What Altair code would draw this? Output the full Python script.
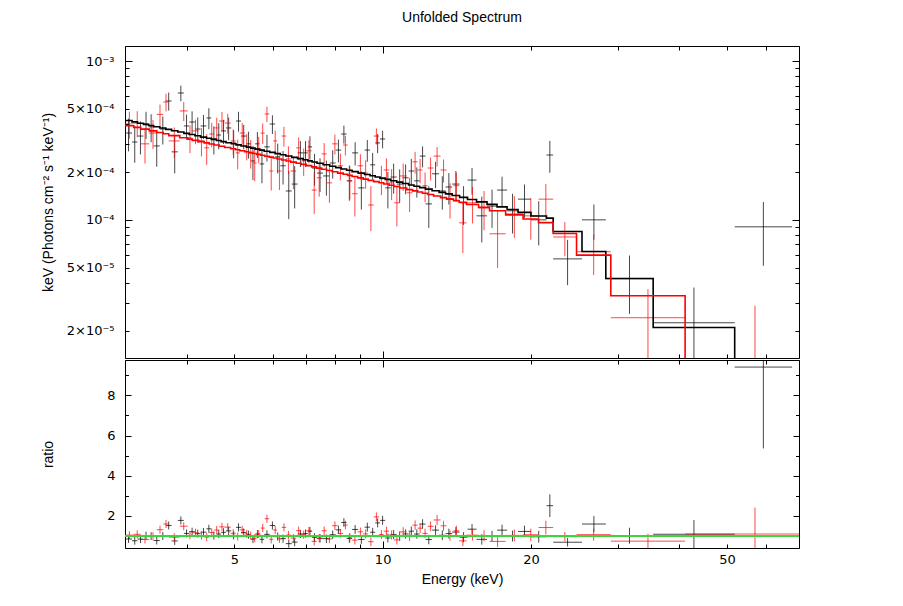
import altair as alt
import numpy as np
import pandas as pd

# ---------------- data ----------------
# dataset 1 (black): bin edges in keV, unfolded flux, 1-sigma error, model
B_EDGES = [3.0, 3.10, 3.18, 3.27, 3.35, 3.43, 3.53, 3.63, 3.73, 3.84, 3.95, 4.05, 4.16, 4.27,
           4.39, 4.49, 4.60, 4.70, 4.81, 4.93, 5.04, 5.16, 5.29, 5.40, 5.51, 5.63, 5.75, 5.90,
           6.05, 6.20, 6.36, 6.54, 6.72, 6.90, 7.05, 7.19, 7.36, 7.57, 7.81, 8.03, 8.24, 8.45,
           8.67, 8.92, 9.19, 9.43, 9.66, 9.88, 10.12, 10.38, 10.68, 10.98, 11.29, 11.58, 11.89,
           12.22, 12.60, 13.02, 13.42, 13.84, 14.33, 14.87, 15.51, 16.29, 17.07, 17.89, 18.83,
           20.0, 21.51, 22.19, 25.39, 28.38, 35.41, 51.83, 67.76]
B_FLUX = [3.52e-4, 3.09e-4, 3.37e-4, 4.01e-4, 3.85e-4, 2.92e-4, 3.73e-4, 5.60e-4, 2.68e-4, 6.29e-4,
          3.90e-4, 4.13e-4, 3.73e-4, 3.90e-4, 4.38e-4, 3.23e-4, 3.42e-4, 3.63e-4, 3.79e-4, 3.05e-4,
          4.19e-4, 3.37e-4, 3.01e-4, 2.35e-4, 3.01e-4, 2.25e-4, 2.88e-4, 4.01e-4, 2.49e-4, 2.19e-4,
          1.52e-4, 1.68e-4, 2.64e-4, 2.64e-4, 2.88e-4, 2.12e-4, 1.97e-4, 1.89e-4, 2.28e-4, 2.75e-4,
          3.47e-4, 1.76e-4, 2.64e-4, 1.59e-4, 2.75e-4, 2.22e-4, 3.05e-4, 3.23e-4, 1.59e-4, 1.86e-4,
          1.68e-4, 1.84e-4, 2.03e-4, 1.76e-4, 2.52e-4, 1.26e-4, 1.95e-4, 1.52e-4, 1.61e-4, 1.68e-4,
          1.28e-4, 1.78e-4, 1.06e-4, 1.22e-4, 1.54e-4, 1.14e-4, 1.35e-4, 1.00e-4, 2.56e-4, 5.68e-5,
          1.00e-4, 4.26e-5, 2.25e-5, 9.04e-5]
B_ERR = [8.2e-5, 8.0e-5, 7.9e-5, 7.8e-5, 7.7e-5, 7.6e-5, 7.5e-5, 7.3e-5, 7.2e-5, 7.1e-5,
         7.0e-5, 6.9e-5, 6.8e-5, 6.7e-5, 6.6e-5, 6.5e-5, 6.4e-5, 6.3e-5, 6.2e-5, 6.1e-5,
         6.0e-5, 5.9e-5, 5.8e-5, 5.7e-5, 5.6e-5, 5.5e-5, 5.5e-5, 5.4e-5, 5.3e-5, 5.2e-5, 5.1e-5, 5.0e-5, 4.9e-5,
         4.9e-5, 4.8e-5, 4.8e-5, 4.7e-5, 4.7e-5, 4.6e-5, 4.5e-5, 4.5e-5, 4.4e-5, 4.4e-5, 4.3e-5, 4.3e-5, 4.2e-5, 4.2e-5, 4.1e-5,
         4.1e-5, 4.0e-5, 4.0e-5, 3.9e-5, 3.9e-5, 3.8e-5, 3.8e-5, 3.7e-5, 3.7e-5, 3.6e-5, 3.6e-5, 3.5e-5,
         3.5e-5, 3.4e-5, 3.4e-5, 3.3e-5, 3.3e-5, 3.2e-5, 3.2e-5, 3.1e-5,
         5.8e-5, 1.8e-5, 2.5e-5, 1.7e-5, 1.5e-5, 3.9e-5]
B_MODEL = [4.218e-4, 4.140e-4, 4.061e-4, 3.990e-4, 3.926e-4, 3.857e-4, 3.783e-4, 3.711e-4, 3.640e-4, 3.570e-4,
           3.505e-4, 3.444e-4, 3.381e-4, 3.319e-4, 3.263e-4, 3.211e-4, 3.160e-4, 3.109e-4, 3.060e-4, 3.011e-4,
           2.963e-4, 2.915e-4, 2.871e-4, 2.830e-4, 2.789e-4, 2.749e-4, 2.705e-4, 2.658e-4, 2.613e-4, 2.570e-4,
           2.523e-4, 2.474e-4, 2.429e-4,
           2.388e-4, 2.351e-4, 2.313e-4, 2.270e-4, 2.222e-4, 2.175e-4, 2.132e-4, 2.092e-4, 2.053e-4, 2.013e-4,
           1.970e-4, 1.930e-4, 1.895e-4, 1.863e-4, 1.831e-4,
           1.799e-4, 1.763e-4, 1.727e-4, 1.692e-4, 1.659e-4, 1.627e-4, 1.595e-4, 1.561e-4, 1.525e-4, 1.490e-4,
           1.457e-4, 1.423e-4,
           1.386e-4, 1.344e-4, 1.298e-4, 1.251e-4, 1.207e-4, 1.163e-4, 1.114e-4, 1.058e-4,
           1.025e-4, 8.44e-5, 6.32e-5, 4.27e-5, 2.10e-5, 9.6e-6]

# dataset 2 (red)
R_EDGES = [3.0, 3.125, 3.229, 3.360, 3.480, 3.587, 3.681, 3.875, 4.022, 4.108, 4.234, 4.344, 4.447,
           4.552, 4.660, 4.781, 4.917, 5.033, 5.128, 5.249, 5.348, 5.449, 5.552, 5.657, 5.763, 5.886,
           5.997, 6.109, 6.239, 6.372, 6.507, 6.676, 6.834, 6.996, 7.178, 7.348, 7.521, 7.699, 7.899,
           8.104, 8.315, 8.492, 8.672, 8.898, 9.130, 9.346, 9.589, 9.838, 10.05, 10.31, 10.55, 10.83,
           11.19, 11.50, 11.78, 12.05, 12.34, 12.69, 13.11, 13.48, 13.93, 14.30, 14.80, 15.66, 16.48,
           17.77, 19.28, 20.72, 22.19, 24.75, 29.05, 41.11, 79.0]
R_FLUX = [4.02e-4, 4.07e-4, 3.01e-4, 3.52e-4, 4.61e-4, 5.52e-4, 3.14e-4, 4.85e-4, 3.28e-4, 3.63e-4,
          3.14e-4, 2.84e-4, 3.47e-4, 3.79e-4, 4.19e-4, 4.07e-4, 3.14e-4, 2.64e-4, 3.52e-4, 2.92e-4,
          2.64e-4, 2.28e-4, 2.80e-4, 3.52e-4, 4.64e-4, 2.03e-4, 3.14e-4, 2.03e-4, 3.37e-4, 2.42e-4,
          2.03e-4, 2.84e-4, 2.35e-4, 2.72e-4, 1.54e-4, 1.84e-4, 2.60e-4, 1.71e-4, 3.01e-4, 2.19e-4,
          2.96e-4, 1.76e-4, 1.46e-4, 2.19e-4, 1.97e-4, 1.24e-4, 3.37e-4, 1.81e-4, 2.06e-4, 1.71e-4,
          1.28e-4, 1.89e-4, 1.48e-4, 2.32e-4, 2.06e-4, 1.64e-4, 2.12e-4, 2.52e-4, 2.06e-4, 1.36e-4,
          1.64e-4, 9.57e-5, 1.28e-4, 1.19e-4, 8.17e-5, 1.09e-4, 1.06e-4, 1.35e-4, 7.8e-5, 6.3e-5,
          2.42e-5, 1.3e-5]
R_ERR = [7.8e-5, 7.6e-5, 7.5e-5, 7.3e-5, 7.1e-5, 7.0e-5, 6.8e-5, 6.6e-5, 6.5e-5, 6.4e-5,
         6.3e-5, 6.2e-5, 6.1e-5, 6.0e-5, 5.9e-5, 5.8e-5, 5.7e-5, 5.6e-5, 5.5e-5, 5.5e-5,
         5.4e-5, 5.3e-5, 5.3e-5, 5.2e-5, 5.1e-5, 5.0e-5, 5.0e-5, 4.9e-5, 4.8e-5, 4.8e-5, 4.7e-5, 4.6e-5,
         4.6e-5, 4.5e-5, 4.5e-5, 4.4e-5, 4.4e-5, 4.3e-5, 4.3e-5, 4.2e-5, 4.2e-5, 4.1e-5, 4.1e-5, 4.0e-5,
         4.0e-5, 3.9e-5, 3.9e-5, 3.8e-5,
         3.8e-5, 3.8e-5, 3.7e-5, 3.7e-5, 3.6e-5, 3.6e-5, 3.6e-5, 3.5e-5, 3.5e-5, 3.5e-5, 3.4e-5, 3.4e-5, 3.4e-5,
         3.4e-5, 3.3e-5, 3.3e-5, 3.2e-5, 3.2e-5, 3.1e-5,
         3.3e-5, 1.9e-5, 1.8e-5, 1.24e-5, 1.58e-5]
R_MODEL = [3.910e-4, 3.820e-4, 3.726e-4, 3.631e-4, 3.550e-4, 3.482e-4, 3.391e-4, 3.289e-4, 3.224e-4, 3.167e-4,
           3.107e-4, 3.054e-4, 3.006e-4, 2.958e-4, 2.908e-4, 2.855e-4, 2.805e-4, 2.764e-4, 2.725e-4, 2.686e-4,
           2.651e-4, 2.617e-4, 2.584e-4, 2.551e-4, 2.516e-4, 2.482e-4, 2.450e-4, 2.417e-4, 2.382e-4, 2.348e-4,
           2.310e-4, 2.272e-4,
           2.234e-4, 2.194e-4, 2.155e-4, 2.118e-4, 2.082e-4, 2.045e-4, 2.007e-4, 1.969e-4, 1.936e-4, 1.906e-4,
           1.874e-4, 1.839e-4, 1.806e-4, 1.773e-4, 1.740e-4, 1.711e-4,
           1.681e-4, 1.651e-4, 1.621e-4, 1.587e-4, 1.551e-4, 1.522e-4, 1.497e-4, 1.471e-4, 1.443e-4, 1.412e-4,
           1.380e-4, 1.350e-4, 1.321e-4,
           1.292e-4, 1.248e-4, 1.198e-4, 1.141e-4, 1.075e-4, 1.013e-4,
           9.60e-5, 8.20e-5, 6.00e-5, 3.33e-5, 1.2e-5]

# axes
X_DOMAIN = [3.0, 70.0]
Y_DOMAIN = [1.35e-5, 1.243e-3]
R_DOMAIN = [0.385, 9.77]
X_MAJOR = [10]
X_MINOR = [3, 4, 5, 6, 7, 8, 9, 20, 30, 40, 50, 60, 70]
X_LABEL_VALUES = [5, 10, 20, 50]
X_LABEL_TEXT = ["5", "10", "20", "50"]
Y_MAJOR = [1e-3, 1e-4]
Y_MINOR = [9e-4, 8e-4, 7e-4, 6e-4, 5e-4, 4e-4, 3e-4, 2e-4,
           9e-5, 8e-5, 7e-5, 6e-5, 5e-5, 4e-5, 3e-5, 2e-5]
Y_LABEL_VALUES = [1e-3, 5e-4, 2e-4, 1e-4, 5e-5, 2e-5]
Y_LABEL_TEXT = ["10⁻³", "5×10⁻⁴", "2×10⁻⁴", "10⁻⁴", "5×10⁻⁵", "2×10⁻⁵"]
R_MAJOR = [2, 4, 6, 8]
R_MINOR = [1, 3, 5, 7, 9]

FONT = "Liberation Sans"
LFONT = "DejaVu Sans"
W, H_TOP, H_BOT = 674, 312, 188


def label_expr(values, texts):
    parts = [f"abs(datum.value / {v!r} - 1) < 0.001 ? '{t}'" for v, t in zip(values, texts)]
    return " : ".join(parts) + " : ''"


def build(edges, flux, err, model):
    lo = np.array(edges[:-1], dtype=float)
    hi = np.array(edges[1:], dtype=float)
    df = pd.DataFrame({"lo": lo, "hi": hi, "c": np.sqrt(lo * hi),
                       "flux": flux, "err": err, "model": model})
    df["f_lo"] = np.maximum(df["flux"] - df["err"], 1e-7)
    df["f_hi"] = df["flux"] + df["err"]
    df["ratio"] = df["flux"] / df["model"]
    df["r_err"] = df["err"] / df["model"]
    df["r_lo"] = df["ratio"] - df["r_err"]
    df["r_hi"] = df["ratio"] + df["r_err"]
    return df


def steps(df):
    rows = []
    for i, r in df.reset_index(drop=True).iterrows():
        rows.append({"i": 2 * i, "e": r["lo"], "m": r["model"]})
        rows.append({"i": 2 * i + 1, "e": r["hi"], "m": r["model"]})
    return pd.DataFrame(rows)


dfb = build(B_EDGES, B_FLUX, B_ERR, B_MODEL)
dfr = build(R_EDGES, R_FLUX, R_ERR, R_MODEL)
stb = steps(dfb)
str_ = steps(dfr)

xs = alt.Scale(type="log", domain=X_DOMAIN, nice=False)
ys = alt.Scale(type="log", domain=Y_DOMAIN, nice=False)
rs = alt.Scale(type="linear", domain=R_DOMAIN, nice=False, zero=False)

XEXPR = label_expr(X_LABEL_VALUES, X_LABEL_TEXT)
YEXPR = label_expr(Y_LABEL_VALUES, Y_LABEL_TEXT)


def axis(orient, values, size, labels=False, expr=None, title=None, **kw):
    a = dict(orient=orient, values=values, tickSize=size, offset=-size, domain=False,
             grid=False, ticks=True, tickColor="black", tickWidth=1, labels=labels,
             labelPadding=kw.pop("labelPadding", 4), title=title)
    if expr is not None:
        a["labelExpr"] = expr
    a.update(kw)
    return alt.Axis(**a)


BLACK = dict(color="black", opacity=0.72, strokeWidth=1, clip=True)
RED = dict(color="#ff0000", opacity=0.72, strokeWidth=1, clip=True)

# ---------------- top panel ----------------
t1 = alt.Chart(dfb).mark_rule(**BLACK).encode(
    x=alt.X("lo:Q", scale=xs, axis=axis("bottom", X_MINOR, 4)),
    x2="hi:Q",
    y=alt.Y("flux:Q", scale=ys, axis=axis(
        "left", Y_MINOR + Y_MAJOR, 4, labels=True, expr=YEXPR, labelPadding=11,
        title="keV (Photons cm⁻² s⁻¹ keV⁻¹)", titleX=-81, titleY=H_TOP / 2,
        titleAngle=270, titleAlign="center", titleBaseline="middle")),
)
t2 = alt.Chart(dfb).mark_rule(**BLACK).encode(
    x=alt.X("c:Q", scale=xs, axis=axis("bottom", X_MAJOR, 7)),
    y=alt.Y("f_lo:Q", scale=ys, axis=axis("left", Y_MAJOR, 7)),
    y2="f_hi:Q",
)
t3 = alt.Chart(dfr).mark_rule(**RED).encode(
    x=alt.X("lo:Q", scale=xs, axis=axis("top", X_MINOR, 4)),
    x2="hi:Q",
    y=alt.Y("flux:Q", scale=ys, axis=axis("right", Y_MINOR, 4)),
)
t4 = alt.Chart(dfr).mark_rule(**RED).encode(
    x=alt.X("c:Q", scale=xs, axis=axis("top", X_MAJOR, 7)),
    y=alt.Y("f_lo:Q", scale=ys, axis=axis("right", Y_MAJOR, 7)),
    y2="f_hi:Q",
)
t5 = alt.Chart(stb).mark_line(color="black", strokeWidth=1.6, clip=True).encode(
    x=alt.X("e:Q", scale=xs, axis=None),
    y=alt.Y("m:Q", scale=ys, axis=None),
    order="i:Q",
)
t6 = alt.Chart(str_).mark_line(color="#ff0000", strokeWidth=1.6, clip=True).encode(
    x=alt.X("e:Q", scale=xs, axis=None),
    y=alt.Y("m:Q", scale=ys, axis=None),
    order="i:Q",
)
top = alt.layer(t1, t2, t3, t4, t5, t6).resolve_axis(
    x="independent", y="independent"
).properties(
    width=W, height=H_TOP,
    title=alt.Title("Unfolded Spectrum", font=FONT, fontSize=14, fontWeight="normal",
                    color="black", anchor="middle", frame="group", offset=21),
)

# ---------------- ratio panel ----------------
b1 = alt.Chart(dfb).mark_rule(**BLACK).encode(
    x=alt.X("lo:Q", scale=xs, axis=axis(
        "bottom", X_MINOR + X_MAJOR, 4, labels=True, expr=XEXPR, labelPadding=5,
        title="Energy (keV)", titlePadding=6)),
    x2="hi:Q",
    y=alt.Y("ratio:Q", scale=rs, axis=axis(
        "left", R_MAJOR, 6, labels=True, labelPadding=10,
        title="ratio", titleX=-83, titleY=H_BOT / 2,
        titleAngle=270, titleAlign="center", titleBaseline="middle")),
)
b2 = alt.Chart(dfb).mark_rule(**BLACK).encode(
    x=alt.X("c:Q", scale=xs, axis=axis("bottom", X_MAJOR, 7)),
    y=alt.Y("r_lo:Q", scale=rs, axis=axis("left", R_MINOR, 3.5)),
    y2="r_hi:Q",
)
b3 = alt.Chart(dfr).mark_rule(**RED).encode(
    x=alt.X("lo:Q", scale=xs, axis=axis("top", X_MINOR, 4)),
    x2="hi:Q",
    y=alt.Y("ratio:Q", scale=rs, axis=axis("right", R_MAJOR, 6)),
)
b4 = alt.Chart(dfr).mark_rule(**RED).encode(
    x=alt.X("c:Q", scale=xs, axis=axis("top", X_MAJOR, 7)),
    y=alt.Y("r_lo:Q", scale=rs, axis=axis("right", R_MINOR, 3.5)),
    y2="r_hi:Q",
)
b5 = alt.Chart(dfb).mark_rule(color="#3fd43f", strokeWidth=1.5, opacity=0.75).encode(
    y=alt.Y(datum=1.0, type="quantitative", scale=rs, axis=None),
)
bottom = alt.layer(b1, b2, b3, b4, b5).resolve_axis(
    x="independent", y="independent"
).properties(width=W, height=H_BOT)

chart = alt.vconcat(top, bottom, spacing=0).properties(
    padding={"left": 32, "top": 2, "right": 5, "bottom": 5},
).configure_view(
    stroke="black", strokeWidth=1
).configure_axis(
    labelFont=LFONT, titleFont=FONT, labelFontSize=13, titleFontSize=14,
    labelColor="black", titleColor="black", titleFontWeight="normal",
)

chart.save("out.html", embed_options={"renderer": "svg", "actions": False})
